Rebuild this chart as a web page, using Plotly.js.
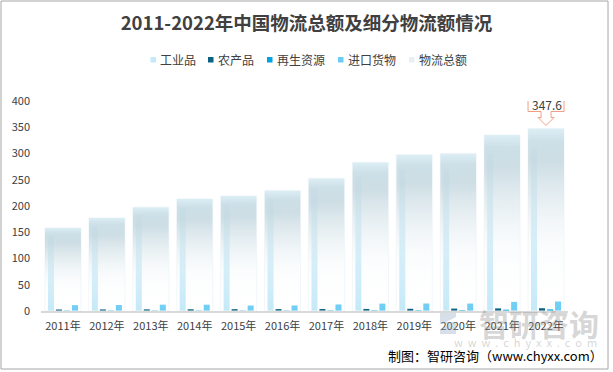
<!DOCTYPE html>
<html><head><meta charset="utf-8">
<script src="https://cdn.plot.ly/plotly-3.0.1.min.js"></script>
<style>html,body{margin:0;padding:0;background:#fff}#c{width:613px;height:372px}</style>
</head><body><div id="c"></div>
<script>
const years = ['2011年','2012年','2013年','2014年','2015年','2016年','2017年','2018年','2019年','2020年','2021年','2022年'];
const total = [158.4,177.3,197.8,213.5,219.2,229.7,252.8,283.1,298.0,300.1,335.2,347.6];
const industrial = [143.6,162.0,181.5,196.9,204.0,214.0,234.5,256.8,269.6,269.9,299.6,309.2];
const agri = [2.9,3.0,3.1,3.3,3.5,3.6,3.7,3.9,4.2,4.6,5.0,5.3];
const recycled = [0.8,0.8,0.8,0.8,0.8,0.8,1.1,1.3,1.4,1.6,2.5,3.1];
const imports = [11.2,11.5,12.1,12.0,10.4,10.5,12.5,14.1,14.3,14.2,17.4,18.1];
const seriesNames = ['工业品','农产品','再生资源','进口货物','物流总额'];
const legendColors = ['#c5e9f8','#0b6182','#00a3de','#6ccdf4','#e8f0f3'];

const idx = years.map(function (_, i) { return i; });
const FONT = '"Noto Sans CJK SC", "Microsoft YaHei", sans-serif';
// plot area in pixels
const L = 41, T = 101, PW = 527, PH = 210;
function px(v) { return (v - L) / PW; }
function py(v) { return (T + PH - v) / PH; }

const W = 0.137;
const half = 0.41;
function barTrace(name, vals, color, offset) {
  return {type:'bar', name: name, x: idx, y: vals, width: W, offset: offset, marker:{color: color, line:{width:0}}, hoverinfo:'y+name'};
}
const traces = [
  barTrace(seriesNames[0], industrial, legendColors[0], -0.342),
  barTrace(seriesNames[1], agri, legendColors[1], -0.16),
  barTrace(seriesNames[2], recycled, legendColors[2], 0.023),
  barTrace(seriesNames[3], imports, legendColors[3], 0.205),
  {type:'bar', name: seriesNames[4], x: idx, y: total, width: 2*half, offset: -half,
   marker:{color:'rgba(255,255,255,0)', line:{color:'rgba(240,246,249,0.9)', width:1}}, hoverinfo:'y+name'}
];

// vertical gradient fill for the total bars (drawn over each total bar via the data axes)
const gradSvg = "<svg xmlns='http://www.w3.org/2000/svg' width='100' height='100' viewBox='0 0 100 100' preserveAspectRatio='none'>" +
  "<defs><linearGradient id='g' x1='0' y1='0' x2='0' y2='1'>" +
  "<stop offset='0' stop-color='#d9ecf4' stop-opacity='0.9'/>" +
  "<stop offset='0.07' stop-color='#c9dde5' stop-opacity='0.92'/>" +
  "<stop offset='0.18' stop-color='#c6d9e0' stop-opacity='0.88'/>" +
  "<stop offset='0.4' stop-color='#dbe7ec' stop-opacity='0.65'/>" +
  "<stop offset='0.65' stop-color='#f2f7f9' stop-opacity='0.35'/>" +
  "<stop offset='1' stop-color='#ffffff' stop-opacity='0'/>" +
  "</linearGradient></defs><rect x='0' y='0' width='100' height='100' fill='url(#g)'/></svg>";
const gradSrc = 'data:image/svg+xml;charset=utf-8,' + encodeURIComponent(gradSvg);
const images = total.map(function (v, i) {
  return {source: gradSrc, xref:'x', yref:'y', x: i - half, y: v, sizex: 2*half, sizey: v, sizing:'stretch', xanchor:'left', yanchor:'top', layer:'above'};
});

// custom legend (small squares + labels) laid out like the reference
const legendX = [150.5, 208, 267, 338, 409];
const legendShapes = legendX.map(function (x, k) { return {type:'rect', xref:'paper', yref:'paper', x0:px(x), x1:px(x+5.5), y0:py(62.5), y1:py(57), fillcolor:legendColors[k], line:{width:0}}; });
const legendTexts = legendX.map(function (x, k) { return {xref:'paper', yref:'paper', x:px(x+7.5), y:py(59.5), xanchor:'left', yanchor:'middle', text:seriesNames[k], showarrow:false, font:{family:FONT, size:12, color:'#404040'}}; });

function P(a, b) { return px(a) + ',' + py(b); }
const logoPath = 'M ' + P(440,313) + ' L ' + P(456,313) + ' L ' + P(456,317) + ' L ' + P(446,322) + ' L ' + P(456,322) + ' L ' + P(456,334) + ' L ' + P(440,334) + ' L ' + P(440,329) + ' L ' + P(450,324) + ' L ' + P(440,324) + ' Z';

const last = total.length - 1;
const shapes = [
  {type:'rect', xref:'paper', yref:'paper', x0:px(1), x1:px(608), y0:py(369), y1:py(1), line:{color:'#a6a6a6', width:1}, fillcolor:'rgba(0,0,0,0)', layer:'below'},
  {type:'path', xref:'x', yref:'y', xsizemode:'pixel', ysizemode:'pixel', xanchor: last, yanchor: total[last],
   path:'M -18,32 L 18,32 L 18,17 L 5,17 L 5,11 L 8,11 L 0,3 L -8,11 L -5,11 L -5,17 L -18,17 Z',
   fillcolor:'#ffffff', line:{color:'#f19e85', width:1}},
  {type:'path', xref:'paper', yref:'paper', path: logoPath, fillcolor:'rgba(140,165,190,0.35)', line:{width:0}}
].concat(legendShapes);
const annotations = [
  {x: last, y: total[last], xref:'x', yref:'y', text: String(total[last]), showarrow:false, yshift:24.5, xshift:0.5, font:{family:FONT, size:12, color:'#404040'}},
  {xref:'paper', yref:'paper', x:px(605), y:py(355), xanchor:'right', yanchor:'middle', text:'制图：智研咨询（www.chyxx.com）', showarrow:false, font:{family:FONT, size:13, color:'#000'}},
  {xref:'paper', yref:'paper', x:px(539), y:py(322.5), xanchor:'center', yanchor:'middle', text:'<b>智研咨询</b>', showarrow:false, font:{family:FONT, size:30, color:'rgba(150,150,150,0.4)'}},
  {xref:'paper', yref:'paper', x:px(525), y:py(342), xanchor:'center', yanchor:'middle', text:'w  w  w  .  c  h  y  x  x  .  c  o  m', showarrow:false, font:{family:FONT, size:11, color:'rgba(150,150,150,0.4)'}}
].concat(legendTexts);

const layout = {
  width:613, height:372,
  margin:{l:L, r:613-L-PW, t:T, b:372-T-PH},
  paper_bgcolor:'#fff', plot_bgcolor:'rgba(0,0,0,0)',
  font:{family:FONT, color:'#404040', size:11},
  title:{text:'<b>2011-2022年中国物流总额及细分物流额情况</b>', font:{family:FONT, size:18.5, color:'#404040'}, x:0.5, xanchor:'center', y:1-24/372, yanchor:'middle', yref:'container'},
  barmode:'overlay',
  showlegend:false,
  xaxis:{type:'linear', range:[-0.5, 11.5], tickvals: idx, ticktext: years, showgrid:false, zeroline:false, showline:true, linecolor:'#d9d9d9', linewidth:1.5, ticks:'', ticklabelstandoff:4, tickfont:{size:11, color:'#404040'}, fixedrange:true},
  yaxis:{range:[0, 400], dtick:50, showgrid:false, zeroline:false, showline:false, ticks:'', ticklabelstandoff:10, tickfont:{size:11, color:'#404040'}, fixedrange:true},
  images: images,
  shapes: shapes,
  annotations: annotations
};
Plotly.newPlot('c', traces, layout, {displayModeBar:false, staticPlot:true});
</script></body></html>
